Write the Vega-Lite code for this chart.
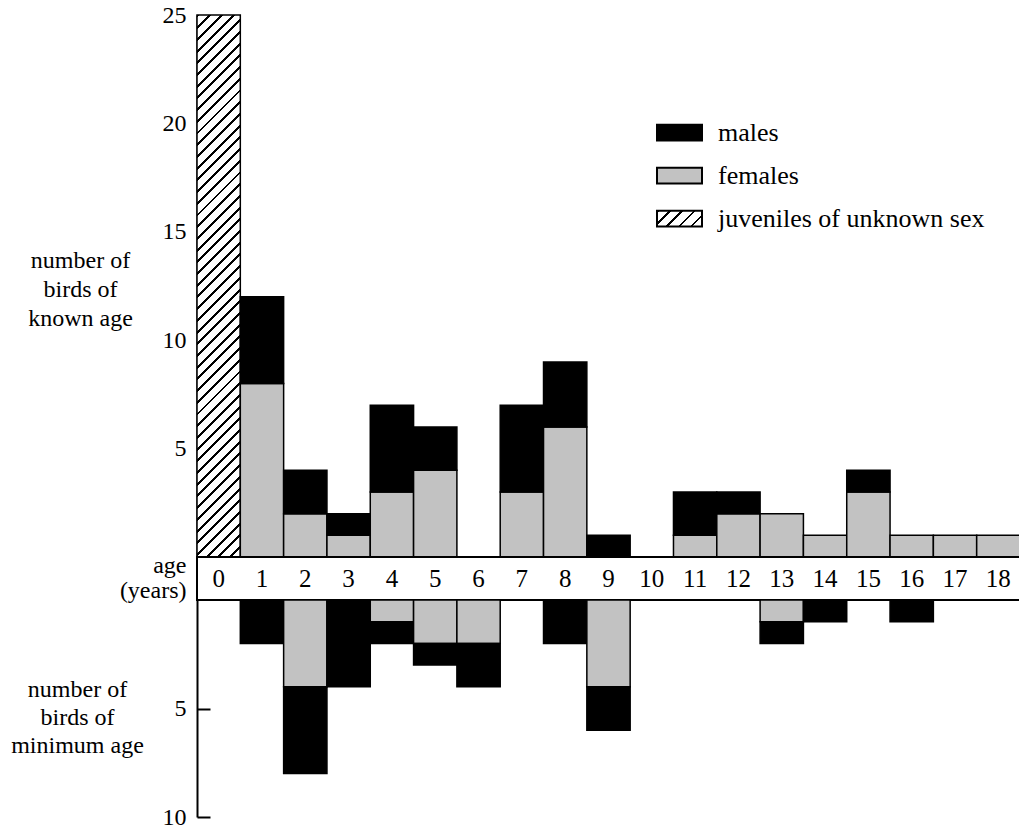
{
  "$schema": "https://vega.github.io/schema/vega-lite/v6.json",
  "padding": {"left": 10, "top": 3, "right": 0, "bottom": 0},
  "background": "white",
  "spacing": 0,
  "bounds": "flush",
  "datasets": {
    "known": [
      {"age": 0, "sex": "juveniles of unknown sex", "count": 25},
      {"age": 1, "sex": "females", "count": 8}, {"age": 1, "sex": "males", "count": 4},
      {"age": 2, "sex": "females", "count": 2}, {"age": 2, "sex": "males", "count": 2},
      {"age": 3, "sex": "females", "count": 1}, {"age": 3, "sex": "males", "count": 1},
      {"age": 4, "sex": "females", "count": 3}, {"age": 4, "sex": "males", "count": 4},
      {"age": 5, "sex": "females", "count": 4}, {"age": 5, "sex": "males", "count": 2},
      {"age": 7, "sex": "females", "count": 3}, {"age": 7, "sex": "males", "count": 4},
      {"age": 8, "sex": "females", "count": 6}, {"age": 8, "sex": "males", "count": 3},
      {"age": 9, "sex": "males", "count": 1},
      {"age": 11, "sex": "females", "count": 1}, {"age": 11, "sex": "males", "count": 2},
      {"age": 12, "sex": "females", "count": 2}, {"age": 12, "sex": "males", "count": 1},
      {"age": 13, "sex": "females", "count": 2},
      {"age": 14, "sex": "females", "count": 1},
      {"age": 15, "sex": "females", "count": 3}, {"age": 15, "sex": "males", "count": 1},
      {"age": 16, "sex": "females", "count": 1},
      {"age": 17, "sex": "females", "count": 1},
      {"age": 18, "sex": "females", "count": 1}
    ],
    "minimum": [
      {"age": 1, "sex": "males", "count": 2},
      {"age": 2, "sex": "females", "count": 4}, {"age": 2, "sex": "males", "count": 4},
      {"age": 3, "sex": "males", "count": 4},
      {"age": 4, "sex": "females", "count": 1}, {"age": 4, "sex": "males", "count": 1},
      {"age": 5, "sex": "females", "count": 2}, {"age": 5, "sex": "males", "count": 1},
      {"age": 6, "sex": "females", "count": 2}, {"age": 6, "sex": "males", "count": 2},
      {"age": 8, "sex": "males", "count": 2},
      {"age": 9, "sex": "females", "count": 4}, {"age": 9, "sex": "males", "count": 2},
      {"age": 13, "sex": "females", "count": 1}, {"age": 13, "sex": "males", "count": 1},
      {"age": 14, "sex": "males", "count": 1},
      {"age": 16, "sex": "males", "count": 1}
    ],
    "ages": [
      {"age": 0}, {"age": 1}, {"age": 2}, {"age": 3}, {"age": 4}, {"age": 5}, {"age": 6},
      {"age": 7}, {"age": 8}, {"age": 9}, {"age": 10}, {"age": 11}, {"age": 12}, {"age": 13},
      {"age": 14}, {"age": 15}, {"age": 16}, {"age": 17}, {"age": 18}
    ]
  },
  "vconcat": [
    {
      "width": 823,
      "height": 542,
      "data": {"name": "known"},
      "mark": {"type": "bar", "stroke": "black", "strokeWidth": 1.5},
      "encoding": {
        "x": {
          "field": "age", "type": "ordinal",
          "scale": {"domain": [0,1,2,3,4,5,6,7,8,9,10,11,12,13,14,15,16,17,18], "paddingInner": 0, "paddingOuter": 0},
          "axis": null
        },
        "y": {
          "field": "count", "type": "quantitative", "stack": "zero",
          "scale": {"domain": [0, 25], "nice": false},
          "axis": {
            "values": [5, 10, 15, 20, 25],
            "ticks": false,
            "labelFontSize": 24,
            "labelPadding": 11,
            "title": ["number of", "birds of", "known age"],
            "titleAngle": 0,
            "titleAlign": "center",
            "titleBaseline": "middle",
            "titleX": -117,
            "titleY": 245,
            "titleFontSize": 24,
            "titleFontWeight": "normal",
            "titleLineHeight": 29
          }
        },
        "color": {
          "field": "sex", "type": "nominal",
          "scale": {"domain": ["males", "females", "juveniles of unknown sex"], "range": ["black", "#c2c2c2",
            {"expr": "{gradient: 'linear', x1: 0, y1: 0, x2: 1.2027, y2: 0.4209, stops: [{offset: 0, color: '#000'}, {offset: 0.045, color: '#000'}, {offset: 0.045, color: '#fff'}, {offset: 0.2, color: '#fff'}, {offset: 0.2, color: '#000'}, {offset: 0.245, color: '#000'}, {offset: 0.245, color: '#fff'}, {offset: 0.4, color: '#fff'}, {offset: 0.4, color: '#000'}, {offset: 0.445, color: '#000'}, {offset: 0.445, color: '#fff'}, {offset: 0.6, color: '#fff'}, {offset: 0.6, color: '#000'}, {offset: 0.645, color: '#000'}, {offset: 0.645, color: '#fff'}, {offset: 0.8, color: '#fff'}, {offset: 0.8, color: '#000'}, {offset: 0.845, color: '#000'}, {offset: 0.845, color: '#fff'}, {offset: 1, color: '#fff'}]}"}
          ]},
          "condition": {
            "test": "datum.sex === 'juveniles of unknown sex'",
            "value": {"gradient": "linear", "x1": 0, "y1": 0, "x2": 0.08577, "y2": 1.07312, "stops": [
              {"offset":0,"color":"#000"},{"offset":0.005,"color":"#000"},{"offset":0.005,"color":"#fff"},{"offset":0.02,"color":"#fff"},
              {"offset":0.02,"color":"#000"},{"offset":0.025,"color":"#000"},{"offset":0.025,"color":"#fff"},{"offset":0.04,"color":"#fff"},
              {"offset":0.04,"color":"#000"},{"offset":0.045,"color":"#000"},{"offset":0.045,"color":"#fff"},{"offset":0.06,"color":"#fff"},
              {"offset":0.06,"color":"#000"},{"offset":0.065,"color":"#000"},{"offset":0.065,"color":"#fff"},{"offset":0.08,"color":"#fff"},
              {"offset":0.08,"color":"#000"},{"offset":0.085,"color":"#000"},{"offset":0.085,"color":"#fff"},{"offset":0.1,"color":"#fff"},
              {"offset":0.1,"color":"#000"},{"offset":0.105,"color":"#000"},{"offset":0.105,"color":"#fff"},{"offset":0.12,"color":"#fff"},
              {"offset":0.12,"color":"#000"},{"offset":0.125,"color":"#000"},{"offset":0.125,"color":"#fff"},{"offset":0.14,"color":"#fff"},
              {"offset":0.14,"color":"#000"},{"offset":0.145,"color":"#000"},{"offset":0.145,"color":"#fff"},{"offset":0.16,"color":"#fff"},
              {"offset":0.16,"color":"#000"},{"offset":0.165,"color":"#000"},{"offset":0.165,"color":"#fff"},{"offset":0.18,"color":"#fff"},
              {"offset":0.18,"color":"#000"},{"offset":0.185,"color":"#000"},{"offset":0.185,"color":"#fff"},{"offset":0.2,"color":"#fff"},
              {"offset":0.2,"color":"#000"},{"offset":0.205,"color":"#000"},{"offset":0.205,"color":"#fff"},{"offset":0.22,"color":"#fff"},
              {"offset":0.22,"color":"#000"},{"offset":0.225,"color":"#000"},{"offset":0.225,"color":"#fff"},{"offset":0.24,"color":"#fff"},
              {"offset":0.24,"color":"#000"},{"offset":0.245,"color":"#000"},{"offset":0.245,"color":"#fff"},{"offset":0.26,"color":"#fff"},
              {"offset":0.26,"color":"#000"},{"offset":0.265,"color":"#000"},{"offset":0.265,"color":"#fff"},{"offset":0.28,"color":"#fff"},
              {"offset":0.28,"color":"#000"},{"offset":0.285,"color":"#000"},{"offset":0.285,"color":"#fff"},{"offset":0.3,"color":"#fff"},
              {"offset":0.3,"color":"#000"},{"offset":0.305,"color":"#000"},{"offset":0.305,"color":"#fff"},{"offset":0.32,"color":"#fff"},
              {"offset":0.32,"color":"#000"},{"offset":0.325,"color":"#000"},{"offset":0.325,"color":"#fff"},{"offset":0.34,"color":"#fff"},
              {"offset":0.34,"color":"#000"},{"offset":0.345,"color":"#000"},{"offset":0.345,"color":"#fff"},{"offset":0.36,"color":"#fff"},
              {"offset":0.36,"color":"#000"},{"offset":0.365,"color":"#000"},{"offset":0.365,"color":"#fff"},{"offset":0.38,"color":"#fff"},
              {"offset":0.38,"color":"#000"},{"offset":0.385,"color":"#000"},{"offset":0.385,"color":"#fff"},{"offset":0.4,"color":"#fff"},
              {"offset":0.4,"color":"#000"},{"offset":0.405,"color":"#000"},{"offset":0.405,"color":"#fff"},{"offset":0.42,"color":"#fff"},
              {"offset":0.42,"color":"#000"},{"offset":0.425,"color":"#000"},{"offset":0.425,"color":"#fff"},{"offset":0.44,"color":"#fff"},
              {"offset":0.44,"color":"#000"},{"offset":0.445,"color":"#000"},{"offset":0.445,"color":"#fff"},{"offset":0.46,"color":"#fff"},
              {"offset":0.46,"color":"#000"},{"offset":0.465,"color":"#000"},{"offset":0.465,"color":"#fff"},{"offset":0.48,"color":"#fff"},
              {"offset":0.48,"color":"#000"},{"offset":0.485,"color":"#000"},{"offset":0.485,"color":"#fff"},{"offset":0.5,"color":"#fff"},
              {"offset":0.5,"color":"#000"},{"offset":0.505,"color":"#000"},{"offset":0.505,"color":"#fff"},{"offset":0.52,"color":"#fff"},
              {"offset":0.52,"color":"#000"},{"offset":0.525,"color":"#000"},{"offset":0.525,"color":"#fff"},{"offset":0.54,"color":"#fff"},
              {"offset":0.54,"color":"#000"},{"offset":0.545,"color":"#000"},{"offset":0.545,"color":"#fff"},{"offset":0.56,"color":"#fff"},
              {"offset":0.56,"color":"#000"},{"offset":0.565,"color":"#000"},{"offset":0.565,"color":"#fff"},{"offset":0.58,"color":"#fff"},
              {"offset":0.58,"color":"#000"},{"offset":0.585,"color":"#000"},{"offset":0.585,"color":"#fff"},{"offset":0.6,"color":"#fff"},
              {"offset":0.6,"color":"#000"},{"offset":0.605,"color":"#000"},{"offset":0.605,"color":"#fff"},{"offset":0.62,"color":"#fff"},
              {"offset":0.62,"color":"#000"},{"offset":0.625,"color":"#000"},{"offset":0.625,"color":"#fff"},{"offset":0.64,"color":"#fff"},
              {"offset":0.64,"color":"#000"},{"offset":0.645,"color":"#000"},{"offset":0.645,"color":"#fff"},{"offset":0.66,"color":"#fff"},
              {"offset":0.66,"color":"#000"},{"offset":0.665,"color":"#000"},{"offset":0.665,"color":"#fff"},{"offset":0.68,"color":"#fff"},
              {"offset":0.68,"color":"#000"},{"offset":0.685,"color":"#000"},{"offset":0.685,"color":"#fff"},{"offset":0.7,"color":"#fff"},
              {"offset":0.7,"color":"#000"},{"offset":0.705,"color":"#000"},{"offset":0.705,"color":"#fff"},{"offset":0.72,"color":"#fff"},
              {"offset":0.72,"color":"#000"},{"offset":0.725,"color":"#000"},{"offset":0.725,"color":"#fff"},{"offset":0.74,"color":"#fff"},
              {"offset":0.74,"color":"#000"},{"offset":0.745,"color":"#000"},{"offset":0.745,"color":"#fff"},{"offset":0.76,"color":"#fff"},
              {"offset":0.76,"color":"#000"},{"offset":0.765,"color":"#000"},{"offset":0.765,"color":"#fff"},{"offset":0.78,"color":"#fff"},
              {"offset":0.78,"color":"#000"},{"offset":0.785,"color":"#000"},{"offset":0.785,"color":"#fff"},{"offset":0.8,"color":"#fff"},
              {"offset":0.8,"color":"#000"},{"offset":0.805,"color":"#000"},{"offset":0.805,"color":"#fff"},{"offset":0.82,"color":"#fff"},
              {"offset":0.82,"color":"#000"},{"offset":0.825,"color":"#000"},{"offset":0.825,"color":"#fff"},{"offset":0.84,"color":"#fff"},
              {"offset":0.84,"color":"#000"},{"offset":0.845,"color":"#000"},{"offset":0.845,"color":"#fff"},{"offset":0.86,"color":"#fff"},
              {"offset":0.86,"color":"#000"},{"offset":0.865,"color":"#000"},{"offset":0.865,"color":"#fff"},{"offset":0.88,"color":"#fff"},
              {"offset":0.88,"color":"#000"},{"offset":0.885,"color":"#000"},{"offset":0.885,"color":"#fff"},{"offset":0.9,"color":"#fff"},
              {"offset":0.9,"color":"#000"},{"offset":0.905,"color":"#000"},{"offset":0.905,"color":"#fff"},{"offset":0.92,"color":"#fff"},
              {"offset":0.92,"color":"#000"},{"offset":0.925,"color":"#000"},{"offset":0.925,"color":"#fff"},{"offset":0.94,"color":"#fff"},
              {"offset":0.94,"color":"#000"},{"offset":0.945,"color":"#000"},{"offset":0.945,"color":"#fff"},{"offset":0.96,"color":"#fff"},
              {"offset":0.96,"color":"#000"},{"offset":0.965,"color":"#000"},{"offset":0.965,"color":"#fff"},{"offset":0.98,"color":"#fff"},
              {"offset":0.98,"color":"#000"},{"offset":0.985,"color":"#000"},{"offset":0.985,"color":"#fff"},{"offset":1,"color":"#fff"}
            ]}
          },
          "legend": {
            "title": null,
            "orient": "none",
            "legendX": 459,
            "legendY": 94,
            "padding": 0,
            "symbolType": "M-1,-0.35H1V0.35H-1Z",
            "symbolSize": 2025,
            "symbolStrokeColor": "black",
            "symbolStrokeWidth": 2,
            "labelFontSize": 26,
            "labelFont": "Liberation Serif",
            "labelColor": "black",
            "labelOffset": 15,
            "labelLimit": 400,
            "rowPadding": 6
          }
        },
        "order": {"field": "sex", "type": "nominal", "sort": "ascending"}
      }
    },
    {
      "width": 823,
      "height": 43,
      "data": {"name": "ages"},
      "view": {"stroke": "black", "strokeWidth": 2},
      "mark": {"type": "text", "fontSize": 25, "font": "Liberation Serif", "baseline": "middle", "color": "black"},
      "encoding": {
        "x": {
          "field": "age", "type": "ordinal",
          "scale": {"domain": [0,1,2,3,4,5,6,7,8,9,10,11,12,13,14,15,16,17,18], "paddingInner": 0, "paddingOuter": 0},
          "axis": {
            "labels": false,
            "ticks": false,
            "domain": false,
            "title": ["age", "(years)"],
            "titleAngle": 0,
            "titleAlign": "right",
            "titleBaseline": "middle",
            "titleX": -11,
            "titleY": -35,
            "titleFontSize": 24,
            "titleFontWeight": "normal",
            "titleLineHeight": 25
          }
        },
        "text": {"field": "age", "type": "ordinal"}
      }
    },
    {
      "width": 823,
      "height": 217,
      "data": {"name": "minimum"},
      "mark": {"type": "bar", "stroke": "black", "strokeWidth": 1.5},
      "encoding": {
        "x": {
          "field": "age", "type": "ordinal",
          "scale": {"domain": [0,1,2,3,4,5,6,7,8,9,10,11,12,13,14,15,16,17,18], "paddingInner": 0, "paddingOuter": 0},
          "axis": null
        },
        "y": {
          "field": "count", "type": "quantitative", "stack": "zero",
          "scale": {"domain": [0, 10], "nice": false, "reverse": true},
          "axis": {
            "values": [5, 10],
            "ticks": true,
            "tickSize": -13,
            "labelFontSize": 24,
            "labelPadding": 24,
            "title": ["number of", "birds of", "minimum age"],
            "titleAngle": 0,
            "titleAlign": "center",
            "titleBaseline": "middle",
            "titleX": -120,
            "titleY": 89,
            "titleFontSize": 24,
            "titleFontWeight": "normal",
            "titleLineHeight": 28
          }
        },
        "color": {
          "field": "sex", "type": "nominal",
          "scale": {"domain": ["males", "females", "juveniles of unknown sex"], "range": ["black", "#c2c2c2", "white"]},
          "legend": null
        },
        "order": {"field": "sex", "type": "nominal", "sort": "ascending"}
      }
    }
  ],
  "resolve": {"scale": {"y": "independent", "color": "independent"}},
  "config": {
    "font": "Liberation Serif",
    "view": {"stroke": null},
    "axis": {
      "grid": false,
      "domainColor": "black",
      "domainWidth": 2,
      "tickColor": "black",
      "tickWidth": 2,
      "labelColor": "black",
      "titleColor": "black",
      "labelFont": "Liberation Serif",
      "titleFont": "Liberation Serif"
    }
  }
}
